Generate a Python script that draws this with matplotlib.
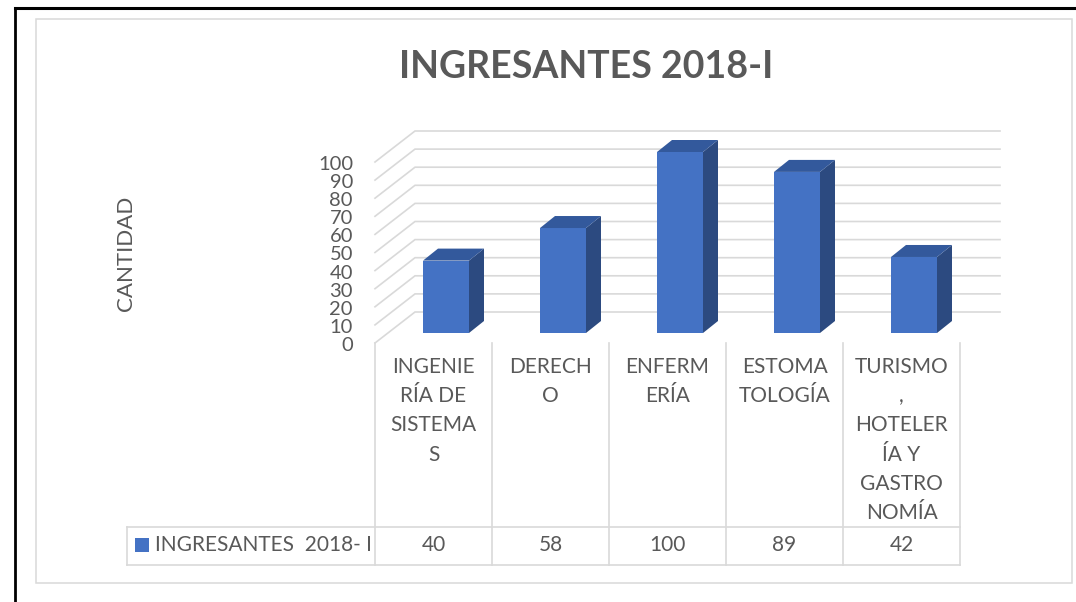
import matplotlib.pyplot as plt
from matplotlib.patches import Polygon, Rectangle
from matplotlib.lines import Line2D
import matplotlib.transforms as mtransforms

plt.rcParams['font.family'] = ['Lato', 'DejaVu Sans']

title = "INGRESANTES 2018-I"
series_name = "INGRESANTES  2018- I"
categories = [
    ["INGENIE", "RÍA DE", "SISTEMA", "S"],
    ["DERECH", "O"],
    ["ENFERM", "ERÍA"],
    ["ESTOMA", "TOLOGÍA"],
    ["TURISMO", ",", "HOTELER", "ÍA Y", "GASTRO", "NOMÍA"],
]
values = [40, 58, 100, 89, 42]
yticks = list(range(0, 101, 10))

W, H = 1076, 602
TXT = "#595959"
GRID = "#d9d9d9"
FRONT = "#4472C4"
SIDE = "#2C4A80"
TOP = "#33599C"

fig = plt.figure(figsize=(W / 100, H / 100), dpi=100)
fig.patch.set_facecolor("white")


def fy(py):
    return 1 - py / H


# outer black frame and chart border
fig.add_artist(Line2D([15 / W, 15 / W], [fy(7.5), 0], color="black", lw=2))
fig.add_artist(Line2D([15 / W, 1], [fy(7.5), fy(7.5)], color="black", lw=2.2))
fig.add_artist(Rectangle((36 / W, fy(583)), (1072 - 36) / W, (583 - 19) / H,
                         fill=False, ec=GRID, lw=1.1))

fig.text(586 / W, fy(67), title, ha="center", va="center", fontsize=27,
         fontweight="bold", color=TXT)
fig.text(126 / W, fy(253), "CANTIDAD", rotation=90, ha="center", va="center",
         fontsize=16, color=TXT)

# front plane axes: x = category index, y = value; front floor edge at py 343
x_left, x_right = 375, 960
ymax = 110
px_per_v = 1.81
ax = fig.add_axes([x_left / W, fy(343), (x_right - x_left) / W, ymax * px_per_v / H])
ax.set_xlim(-0.5, len(values) - 0.5)
ax.set_ylim(0, ymax)
ax.axis("off")
px_per_x = (x_right - x_left) / len(values)


def dxu(px):
    return px / px_per_x


def dyu(px):
    return px / px_per_v


# back wall gridlines and left wall diagonals
back_dx, back_dy = dxu(40), dyu(31)
for v in yticks:
    ax.plot([-0.5, -0.5 + back_dx, len(values) - 0.5 + back_dx],
            [v, v + back_dy, v + back_dy], color=GRID, lw=1.2, clip_on=False,
            solid_joinstyle="miter")
    ax.text(-0.5 - dxu(22), v - dyu(2.5), str(v), ha="right", va="center",
            fontsize=14.5, color=TXT, clip_on=False)

# 3D columns
bx, by = dxu(12.5), dyu(10)
w = 46 / px_per_x
ddx, ddy = dxu(15), dyu(12)
xs = list(range(len(values)))
ax.bar([x + bx for x in xs], values, width=w, bottom=by, color=FRONT,
       clip_on=False, zorder=3)
for x, v in zip(xs, values):
    l, r = x + bx - w / 2, x + bx + w / 2
    t = by + v
    ax.add_patch(Polygon([(r, by), (r + ddx, by + ddy), (r + ddx, t + ddy), (r, t)],
                         closed=True, fc=SIDE, ec="none", clip_on=False, zorder=3))
    ax.add_patch(Polygon([(l, t), (r, t), (r + ddx, t + ddy), (l + ddx, t + ddy)],
                         closed=True, fc=TOP, ec="none", clip_on=False, zorder=3))

# data table
tr = mtransforms.blended_transform_factory(ax.transData, fig.transFigure)
row_top, row_bot = 527, 565
for k in range(len(values) + 1):
    ax.plot([k - 0.5, k - 0.5], [fy(343), fy(row_bot)], color=GRID, lw=1.2,
            transform=tr, clip_on=False)
for py in (row_top, row_bot):
    fig.add_artist(Line2D([127 / W, x_right / W], [fy(py), fy(py)], color=GRID, lw=1.2))
fig.add_artist(Line2D([127 / W, 127 / W], [fy(row_top), fy(row_bot)], color=GRID, lw=1.2))

for x, lines, v in zip(xs, categories, values):
    for j, s in enumerate(lines):
        ax.text(x, fy(367 + 29.2 * j), s, ha="center", va="center", fontsize=15,
                color=TXT, transform=tr, clip_on=False)
    ax.text(x, fy(545), str(v), ha="center", va="center", fontsize=15,
            color=TXT, transform=tr, clip_on=False)

fig.add_artist(Rectangle((135 / W, fy(552)), 14 / W, 14 / H, fc=FRONT, ec="none"))
fig.text(155 / W, fy(545), series_name, ha="left", va="center", fontsize=15, color=TXT)

fig.savefig("out.png", dpi=100, facecolor="white")
